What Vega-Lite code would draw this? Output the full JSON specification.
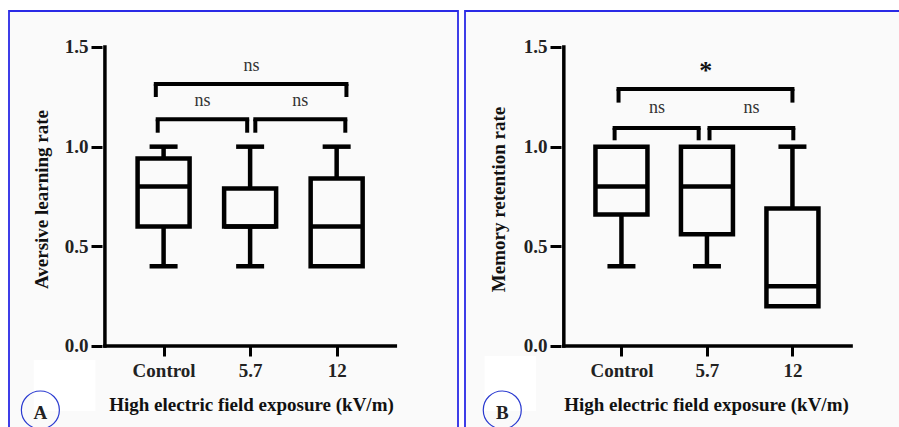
{
  "$schema": "https://vega.github.io/schema/vega-lite/v6.json",
  "padding": {"left": 8, "top": 10, "right": 0, "bottom": 0},
  "autosize": {"type": "pad"},
  "background": "#ffffff",
  "spacing": 5,
  "config": {
    "view": {"stroke": "#2a2ae6", "strokeWidth": 1.8, "fill": "#fafafa"},
    "font": "Liberation Serif",
    "axis": {
      "grid": false,
      "domain": false,
      "labelFont": "Liberation Serif",
      "labelFontWeight": "bold",
      "labelFontSize": 19,
      "labelColor": "#222222",
      "tickColor": "#000000",
      "tickWidth": 3,
      "titleFont": "Liberation Serif",
      "titleFontWeight": "bold",
      "titleFontSize": 19,
      "titleColor": "#111111"
    }
  },
  "datasets": {
    "boxA": [
      {"group": 1, "name": "Control", "min": 0.4, "q1": 0.6, "median": 0.8, "q3": 0.94, "max": 1.0},
      {"group": 2, "name": "5.7", "min": 0.4, "q1": 0.6, "median": 0.6, "q3": 0.79, "max": 1.0},
      {"group": 3, "name": "12", "min": 0.4, "q1": 0.4, "median": 0.6, "q3": 0.84, "max": 1.0}
    ],
    "boxB": [
      {"group": 1, "name": "Control", "min": 0.4, "q1": 0.66, "median": 0.8, "q3": 1.0, "max": 1.0},
      {"group": 2, "name": "5.7", "min": 0.4, "q1": 0.56, "median": 0.8, "q3": 1.0, "max": 1.0},
      {"group": 3, "name": "12", "min": 0.2, "q1": 0.2, "median": 0.3, "q3": 0.69, "max": 1.0}
    ],
    "bracketsA": [
      {"x1": 0.91, "x2": 3.113, "y": 1.314, "leg": 1.249},
      {"x1": 0.932, "x2": 1.966, "y": 1.137, "leg": 1.07},
      {"x1": 2.06, "x2": 3.10, "y": 1.137, "leg": 1.07}
    ],
    "bracketsB": [
      {"x1": 0.966, "x2": 3.0, "y": 1.289, "leg": 1.221},
      {"x1": 0.92, "x2": 1.903, "y": 1.094, "leg": 1.032},
      {"x1": 2.03, "x2": 3.01, "y": 1.094, "leg": 1.032}
    ],
    "labelsA": [
      {"x": 2.017, "y": 1.38, "label": "ns"},
      {"x": 1.449, "y": 1.204, "label": "ns"},
      {"x": 2.58, "y": 1.204, "label": "ns"}
    ],
    "labelsB": [
      {"x": 1.415, "y": 1.17, "label": "ns"},
      {"x": 2.52, "y": 1.17, "label": "ns"}
    ],
    "starB": [
      {"x": 1.986, "y": 1.339, "label": "*"}
    ]
  },
  "hconcat": [
    {
      "width": 449,
      "height": 417,
      "layer": [
        {
          "data": {"values": [{}]},
          "mark": {"type": "rect", "fill": "#ffffff"},
          "encoding": {
            "x": {"datum": -0.5, "type": "quantitative", "scale": {"domain": [-0.7288, 4.3446], "nice": false, "zero": false}, "axis": {
              "values": [1, 2, 3],
              "labelExpr": "datum.value == 1 ? 'Control' : datum.value == 2 ? '5.7' : '12'",
              "offset": -82,
              "tickSize": 10,
              "labelPadding": 5,
              "title": "High electric field exposure (kV/m)",
              "titleX": 242,
              "titleY": 58,
              "titleBaseline": "middle",
              "titleAnchor": "middle"
            }},
            "x2": {"datum": 0.212},
            "y": {"datum": -0.07, "type": "quantitative", "scale": {"domain": [-0.4114, 1.6806], "nice": false, "zero": false}, "axis": {
              "values": [0, 0.5, 1, 1.5],
              "format": ".1f",
              "offset": -93,
              "tickSize": 11,
              "labelPadding": 3,
              "title": "Aversive learning rate",
              "titleX": -51,
              "titleY": 188,
              "titleAngle": -90,
              "titleBaseline": "bottom",
              "titleAlign": "center"
            }},
            "y2": {"datum": -0.326}
          }
        },
        {
          "data": {"values": [{}]},
          "mark": {"type": "point", "shape": "circle", "size": 1444, "stroke": "#2a3ad0", "strokeWidth": 1.2, "filled": false, "opacity": 1},
          "encoding": {"x": {"datum": -0.424, "type": "quantitative"}, "y": {"datum": -0.321, "type": "quantitative"}}
        },
        {
          "data": {"values": [{}]},
          "mark": {"type": "text", "text": "A", "font": "Liberation Serif", "fontWeight": "bold", "fontSize": 19, "color": "#222222", "baseline": "middle"},
          "encoding": {"x": {"datum": -0.424, "type": "quantitative"}, "y": {"datum": -0.335, "type": "quantitative"}}
        },
        {
          "data": {"values": [{}]},
          "mark": {"type": "rule", "color": "#000000", "strokeWidth": 3.5, "strokeCap": "square"},
          "encoding": {"x": {"datum": 0.322, "type": "quantitative"}, "y": {"datum": 0, "type": "quantitative"}, "y2": {"datum": 1.5}}
        },
        {
          "data": {"values": [{}]},
          "mark": {"type": "rule", "color": "#000000", "strokeWidth": 3.5, "strokeCap": "square"},
          "encoding": {"y": {"datum": 0, "type": "quantitative"}, "x": {"datum": 0.322, "type": "quantitative"}, "x2": {"datum": 3.678}}
        },
        {
          "data": {"name": "boxA"},
          "mark": {"type": "rule", "color": "#000000", "strokeWidth": 4.5},
          "encoding": {"x": {"field": "group", "type": "quantitative"}, "y": {"field": "min", "type": "quantitative"}, "y2": {"field": "q1"}}
        },
        {
          "data": {"name": "boxA"},
          "mark": {"type": "rule", "color": "#000000", "strokeWidth": 4.5},
          "encoding": {"x": {"field": "group", "type": "quantitative"}, "y": {"field": "q3", "type": "quantitative"}, "y2": {"field": "max"}}
        },
        {
          "data": {"name": "boxA"},
          "mark": {"type": "bar", "size": 52, "fill": "#fafafa", "fillOpacity": 0, "stroke": "#000000", "strokeWidth": 4.5},
          "encoding": {"x": {"field": "group", "type": "quantitative"}, "y": {"field": "q1", "type": "quantitative"}, "y2": {"field": "q3"}}
        },
        {
          "data": {"name": "boxA"},
          "mark": {"type": "tick", "orient": "horizontal", "size": 52, "thickness": 4.5, "color": "#000000", "opacity": 1},
          "encoding": {"x": {"field": "group", "type": "quantitative"}, "y": {"field": "median", "type": "quantitative"}}
        },
        {
          "data": {"name": "boxA"},
          "mark": {"type": "tick", "orient": "horizontal", "size": 28, "thickness": 4.5, "color": "#000000", "opacity": 1},
          "encoding": {"x": {"field": "group", "type": "quantitative"}, "y": {"field": "max", "type": "quantitative"}}
        },
        {
          "data": {"name": "boxA"},
          "transform": [{"filter": "datum.min < datum.q1"}],
          "mark": {"type": "tick", "orient": "horizontal", "size": 28, "thickness": 4.5, "color": "#000000", "opacity": 1},
          "encoding": {"x": {"field": "group", "type": "quantitative"}, "y": {"field": "min", "type": "quantitative"}}
        },
        {
          "data": {"name": "bracketsA"},
          "mark": {"type": "rule", "color": "#000000", "strokeWidth": 4, "strokeCap": "square"},
          "encoding": {"x": {"field": "x1", "type": "quantitative"}, "x2": {"field": "x2"}, "y": {"field": "y", "type": "quantitative"}}
        },
        {
          "data": {"name": "bracketsA"},
          "mark": {"type": "rule", "color": "#000000", "strokeWidth": 4},
          "encoding": {"x": {"field": "x1", "type": "quantitative"}, "y": {"field": "leg", "type": "quantitative"}, "y2": {"field": "y"}}
        },
        {
          "data": {"name": "bracketsA"},
          "mark": {"type": "rule", "color": "#000000", "strokeWidth": 4},
          "encoding": {"x": {"field": "x2", "type": "quantitative"}, "y": {"field": "leg", "type": "quantitative"}, "y2": {"field": "y"}}
        },
        {
          "data": {"name": "labelsA"},
          "mark": {"type": "text", "font": "Liberation Serif", "fontSize": 18, "color": "#333333", "baseline": "alphabetic"},
          "encoding": {"x": {"field": "x", "type": "quantitative"}, "y": {"field": "y", "type": "quantitative"}, "text": {"field": "label"}}
        }
      ]
    },
    {
      "width": 437,
      "height": 417,
      "layer": [
        {
          "data": {"values": [{}]},
          "mark": {"type": "rect", "fill": "#ffffff"},
          "encoding": {
            "x": {"datum": -0.6, "type": "quantitative", "scale": {"domain": [-0.7714, 4.2229], "nice": false, "zero": false}, "axis": {
              "values": [1, 2, 3],
              "labelExpr": "datum.value == 1 ? 'Control' : datum.value == 2 ? '5.7' : '12'",
              "offset": -82,
              "tickSize": 10,
              "labelPadding": 5,
              "title": "High electric field exposure (kV/m)",
              "titleX": 241,
              "titleY": 58,
              "titleBaseline": "middle",
              "titleAnchor": "middle"
            }},
            "x2": {"datum": 0.0},
            "y": {"datum": -0.05, "type": "quantitative", "scale": {"domain": [-0.4114, 1.6806], "nice": false, "zero": false}, "axis": {
              "values": [0, 0.5, 1, 1.5],
              "format": ".1f",
              "offset": -96,
              "tickSize": 11,
              "labelPadding": 3,
              "title": "Memory retention rate",
              "titleX": -53,
              "titleY": 188,
              "titleAngle": -90,
              "titleBaseline": "bottom",
              "titleAlign": "center"
            }},
            "y2": {"datum": -0.326}
          }
        },
        {
          "data": {"values": [{}]},
          "mark": {"type": "point", "shape": "circle", "size": 1444, "stroke": "#2a3ad0", "strokeWidth": 1.2, "filled": false, "opacity": 1},
          "encoding": {"x": {"datum": -0.394, "type": "quantitative"}, "y": {"datum": -0.321, "type": "quantitative"}}
        },
        {
          "data": {"values": [{}]},
          "mark": {"type": "text", "text": "B", "font": "Liberation Serif", "fontWeight": "bold", "fontSize": 19, "color": "#222222", "baseline": "middle"},
          "encoding": {"x": {"datum": -0.394, "type": "quantitative"}, "y": {"datum": -0.335, "type": "quantitative"}}
        },
        {
          "data": {"values": [{}]},
          "mark": {"type": "rule", "color": "#000000", "strokeWidth": 3.5, "strokeCap": "square"},
          "encoding": {"x": {"datum": 0.326, "type": "quantitative"}, "y": {"datum": 0, "type": "quantitative"}, "y2": {"datum": 1.5}}
        },
        {
          "data": {"values": [{}]},
          "mark": {"type": "rule", "color": "#000000", "strokeWidth": 3.5, "strokeCap": "square"},
          "encoding": {"y": {"datum": 0, "type": "quantitative"}, "x": {"datum": 0.326, "type": "quantitative"}, "x2": {"datum": 3.686}}
        },
        {
          "data": {"name": "boxB"},
          "mark": {"type": "rule", "color": "#000000", "strokeWidth": 4.5},
          "encoding": {"x": {"field": "group", "type": "quantitative"}, "y": {"field": "min", "type": "quantitative"}, "y2": {"field": "q1"}}
        },
        {
          "data": {"name": "boxB"},
          "mark": {"type": "rule", "color": "#000000", "strokeWidth": 4.5},
          "encoding": {"x": {"field": "group", "type": "quantitative"}, "y": {"field": "q3", "type": "quantitative"}, "y2": {"field": "max"}}
        },
        {
          "data": {"name": "boxB"},
          "mark": {"type": "bar", "size": 52, "fill": "#fafafa", "fillOpacity": 0, "stroke": "#000000", "strokeWidth": 4.5},
          "encoding": {"x": {"field": "group", "type": "quantitative"}, "y": {"field": "q1", "type": "quantitative"}, "y2": {"field": "q3"}}
        },
        {
          "data": {"name": "boxB"},
          "mark": {"type": "tick", "orient": "horizontal", "size": 52, "thickness": 4.5, "color": "#000000", "opacity": 1},
          "encoding": {"x": {"field": "group", "type": "quantitative"}, "y": {"field": "median", "type": "quantitative"}}
        },
        {
          "data": {"name": "boxB"},
          "transform": [{"filter": "datum.max > datum.q3"}],
          "mark": {"type": "tick", "orient": "horizontal", "size": 28, "thickness": 4.5, "color": "#000000", "opacity": 1},
          "encoding": {"x": {"field": "group", "type": "quantitative"}, "y": {"field": "max", "type": "quantitative"}}
        },
        {
          "data": {"name": "boxB"},
          "transform": [{"filter": "datum.min < datum.q1"}],
          "mark": {"type": "tick", "orient": "horizontal", "size": 28, "thickness": 4.5, "color": "#000000", "opacity": 1},
          "encoding": {"x": {"field": "group", "type": "quantitative"}, "y": {"field": "min", "type": "quantitative"}}
        },
        {
          "data": {"name": "bracketsB"},
          "mark": {"type": "rule", "color": "#000000", "strokeWidth": 4, "strokeCap": "square"},
          "encoding": {"x": {"field": "x1", "type": "quantitative"}, "x2": {"field": "x2"}, "y": {"field": "y", "type": "quantitative"}}
        },
        {
          "data": {"name": "bracketsB"},
          "mark": {"type": "rule", "color": "#000000", "strokeWidth": 4},
          "encoding": {"x": {"field": "x1", "type": "quantitative"}, "y": {"field": "leg", "type": "quantitative"}, "y2": {"field": "y"}}
        },
        {
          "data": {"name": "bracketsB"},
          "mark": {"type": "rule", "color": "#000000", "strokeWidth": 4},
          "encoding": {"x": {"field": "x2", "type": "quantitative"}, "y": {"field": "leg", "type": "quantitative"}, "y2": {"field": "y"}}
        },
        {
          "data": {"name": "labelsB"},
          "mark": {"type": "text", "font": "Liberation Serif", "fontSize": 18, "color": "#333333", "baseline": "alphabetic"},
          "encoding": {"x": {"field": "x", "type": "quantitative"}, "y": {"field": "y", "type": "quantitative"}, "text": {"field": "label"}}
        },
        {
          "data": {"name": "starB"},
          "mark": {"type": "text", "font": "Liberation Serif", "fontSize": 26, "fontWeight": "bold", "color": "#111111", "baseline": "alphabetic"},
          "encoding": {"x": {"field": "x", "type": "quantitative"}, "y": {"field": "y", "type": "quantitative"}, "text": {"field": "label"}}
        }
      ]
    }
  ]
}
